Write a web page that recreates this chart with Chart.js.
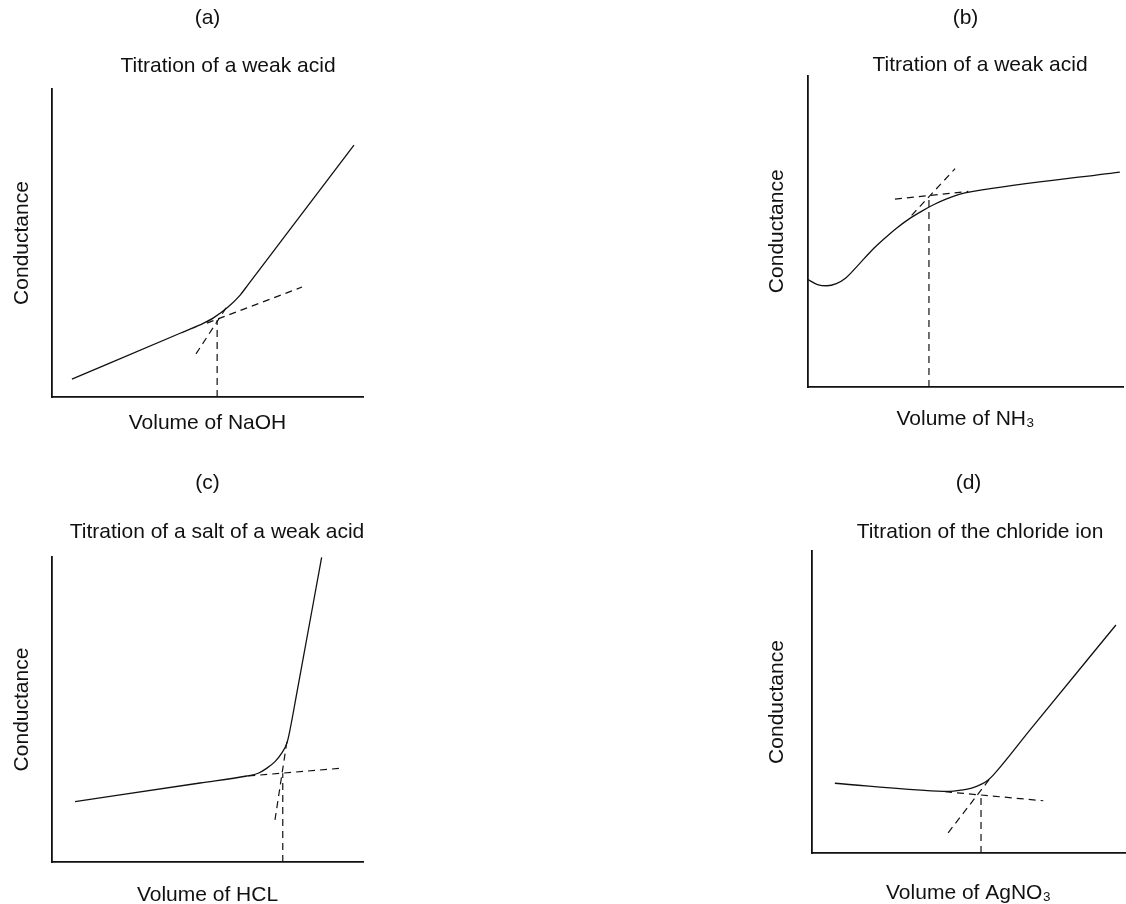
<!DOCTYPE html>
<html>
<head>
<meta charset="utf-8">
<script src="https://cdn.jsdelivr.net/npm/chart.js@4.4.1/dist/chart.umd.min.js"></script>
<style>
  html, body { margin: 0; padding: 0; background: #fff; overflow: hidden; }
  #wrap { position: relative; width: 1126px; height: 904px; overflow: hidden; }
  canvas { position: absolute; }
</style>
</head>
<body>
<div id="wrap">
  <canvas id="chartA" width="456" height="434" style="left:0px;top:0px"></canvas>
  <canvas id="chartB" width="460" height="430" style="left:750px;top:0px"></canvas>
  <canvas id="chartC" width="434" height="446" style="left:0px;top:460px"></canvas>
  <canvas id="chartD" width="460" height="444" style="left:750px;top:460px"></canvas>
</div>
<script>
// data, axes run 0..10 in both directions (arbitrary units)

// (a) weak acid with NaOH
const aCurve = [[0.64, 0.58], [4.12, 2.07], [4.76, 2.34], [5.18, 2.56], [5.66, 2.92], [6.05, 3.31], [6.30, 3.64], [7.33, 5.01], [9.71, 8.18]];
const aTangent1 = [[4.98, 2.40], [8.04, 3.57]];
const aTangent2 = [[4.63, 1.40], [5.66, 2.99]];
const aEnd = [[5.31, 0], [5.31, 2.50]];

// (b) weak acid with NH3
const bCurve = [[0, 3.45], [0.3, 3.29], [0.6, 3.25], [0.9, 3.32], [1.2, 3.50], [1.6, 3.92], [2.0, 4.36], [2.4, 4.74], [2.8, 5.09], [3.2, 5.39], [3.6, 5.64], [4.0, 5.86], [4.4, 6.04], [4.8, 6.18], [5.2, 6.27], [9.9, 6.90]];
const bTangent1 = [[2.76, 6.03], [5.09, 6.28]];
const bTangent2 = [[3.29, 5.51], [4.67, 7.01]];
const bEnd = [[3.84, 0], [3.84, 6.15]];

// (c) salt of a weak acid with HCl
const cCurve = [[0.74, 1.98], [4.76, 2.59], [6.26, 2.82], [6.63, 2.91], [6.90, 3.07], [7.17, 3.29], [7.38, 3.56], [7.55, 3.89], [7.63, 4.22], [7.87, 5.53], [8.67, 9.99]];
const cTangent1 = [[6.31, 2.82], [9.24, 3.07]];
const cTangent2 = [[7.17, 1.38], [7.57, 4.06]];
const cEnd = [[7.42, 0], [7.42, 2.91]];

// (d) chloride ion with AgNO3
const dCurve = [[0.73, 2.31], [4.0, 2.05], [4.40, 2.04], [4.75, 2.08], [5.10, 2.15], [5.40, 2.27], [5.63, 2.42], [5.79, 2.58], [6.96, 4.07], [9.71, 7.55]];
const dTangent1 = [[4.25, 2.03], [7.39, 1.73]];
const dTangent2 = [[4.35, 0.67], [5.69, 2.47]];
const dEnd = [[5.40, 0], [5.40, 1.98]];

const FONT = "'Liberation Sans', Arial, Helvetica, sans-serif";
const INK = '#111';

const pts = arr => arr.map(p => ({ x: p[0], y: p[1] }));

function solid(arr) {
  return {
    data: pts(arr), showLine: true, borderColor: INK, borderWidth: 1.3,
    pointRadius: 0, fill: false, cubicInterpolationMode: 'monotone'
  };
}
function dashed(arr) {
  return {
    data: pts(arr), showLine: true, borderColor: INK, borderWidth: 1.2,
    borderDash: [7, 5], pointRadius: 0, fill: false, tension: 0
  };
}

function makePanel(id, p) {
  const font = { family: FONT, size: 21, lineHeight: 1, weight: 'normal' };
  new Chart(document.getElementById(id), {
    type: 'scatter',
    data: {
      datasets: [solid(p.curve), dashed(p.t1), dashed(p.t2), dashed(p.end)]
    },
    options: {
      responsive: false,
      animation: false,
      events: [],
      layout: { padding: 0, autoPadding: false },
      plugins: {
        legend: { display: false },
        tooltip: { enabled: false },
        title: {
          display: true, text: p.tag, fullSize: false, color: INK, font,
          padding: { top: p.pt1, bottom: p.pb1 }
        },
        subtitle: {
          display: true, text: p.title, color: INK, font,
          padding: { top: 0, bottom: p.pb2 }
        }
      },
      scales: {
        x: {
          type: 'linear', min: 0, max: 10,
          grid: { display: false, drawTicks: false },
          ticks: { display: false },
          border: { display: true, color: INK, width: 1.8 },
          title: { display: true, text: p.xLabel, color: INK, font, padding: { top: p.ptX, bottom: p.pbX } }
        },
        y: {
          type: 'linear', min: 0, max: 10,
          grid: { display: false, drawTicks: false },
          ticks: { display: false },
          border: { display: true, color: INK, width: 1.8 },
          title: { display: true, text: 'Conductance', color: INK, font, padding: { top: p.ptY, bottom: p.pbY } }
        },
        // empty right-hand strip so the chart title is centred like the original
        pad: {
          type: 'linear', axis: 'y', position: 'right', display: true,
          grid: { display: false, drawTicks: false },
          ticks: { display: false },
          border: { display: false },
          afterFit: s => { s.width = p.right; }
        }
      }
    }
  });
}

makePanel('chartA', {
  tag: '(a)', title: 'Titration of a weak acid', xLabel: 'Volume of NaOH',
  curve: aCurve, t1: aTangent1, t2: aTangent2, end: aEnd,
  pt1: 7.5, pb1: 27, pb2: 12.5, ptX: 15.5, pbX: 0.5, ptY: 11.5, pbY: 19.5, right: 93
});
makePanel('chartB', {
  tag: '(b)', title: 'Titration of a weak acid', xLabel: 'Volume of NH\u2083',
  curve: bCurve, t1: bTangent1, t2: bTangent2, end: bEnd,
  pt1: 7.5, pb1: 26, pb2: 0, ptX: 21.5, pbX: 0.5, ptY: 16.5, pbY: 20.5, right: 87
});
makePanel('chartC', {
  tag: '(c)', title: 'Titration of a salt of a weak acid', xLabel: 'Volume of HCL',
  curve: cCurve, t1: cTangent1, t2: cTangent2, end: cEnd,
  pt1: 12.5, pb1: 28, pb2: 14.5, ptX: 22.5, pbX: 0.5, ptY: 11.5, pbY: 19.5, right: 71
});
makePanel('chartD', {
  tag: '(d)', title: 'Titration of the chloride ion', xLabel: 'Volume of AgNO\u2083',
  curve: dCurve, t1: dTangent1, t2: dTangent2, end: dEnd,
  pt1: 12.5, pb1: 28, pb2: 8.5, ptX: 29.5, pbX: 0.5, ptY: 16.5, pbY: 24.5, right: 85
});
</script>
</body>
</html>
